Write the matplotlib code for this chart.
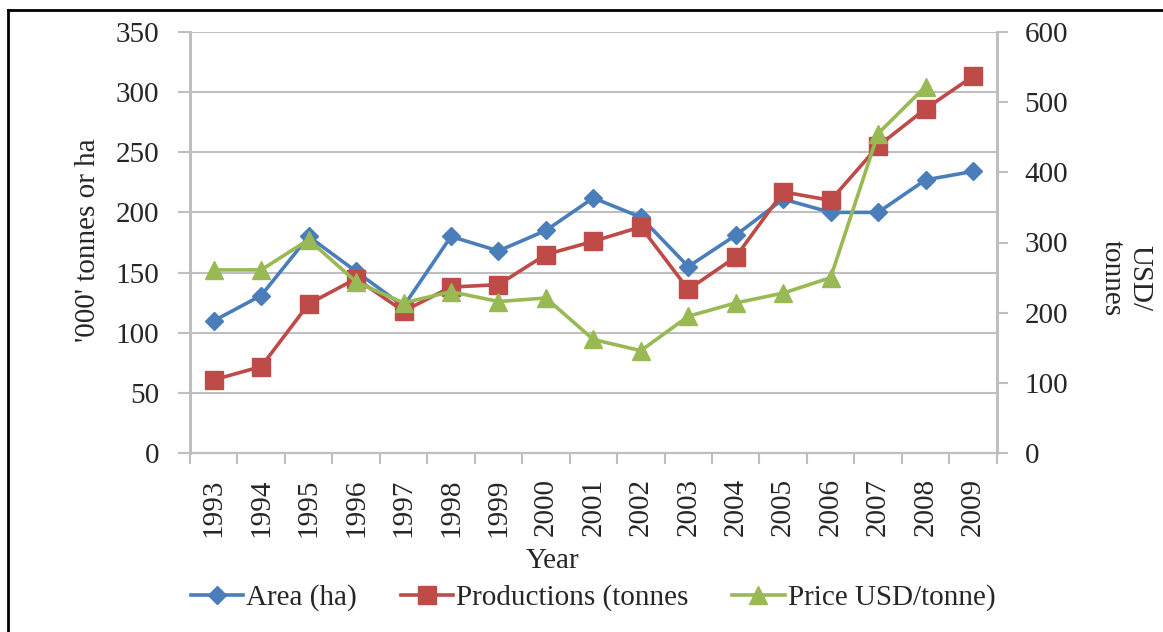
import matplotlib.pyplot as plt
from matplotlib.lines import Line2D

plt.rcParams['font.family'] = ['Liberation Serif', 'DejaVu Serif']

# data
years = ['1993', '1994', '1995', '1996', '1997', '1998', '1999', '2000', '2001',
         '2002', '2003', '2004', '2005', '2006', '2007', '2008', '2009']
area = [110, 131, 180, 151, 122, 180, 168, 185, 212,
        196, 155, 181, 211, 200, 200, 227, 234]
production = [61, 72, 124, 145, 118, 138, 140, 165, 176,
              188, 136, 163, 217, 210, 255, 286, 313]
price = [261, 261, 304, 244, 214, 230, 216, 221, 162,
         146, 195, 214, 228, 250, 455, 522, None]

blue = '#4A7EBB'
red = '#BE4B48'
green = '#98B954'
grid_col = '#BFBFBF'
text_col = '#262626'
fs = 21

fig = plt.figure(figsize=(11.63, 6.32), dpi=100)
ax = fig.add_axes([190 / 1163, 1 - 453.3 / 632, (996.7 - 190) / 1163, (453.3 - 31.7) / 632])
ax2 = ax.twinx()

x = list(range(len(years)))
ax.plot(x, area, color=blue, lw=2.6, marker='D', ms=9.5, zorder=3)
ax.plot(x, production, color=red, lw=2.6, marker='s', ms=12.5, zorder=3)
px = [i for i, v in zip(x, price) if v is not None]
pv = [v for v in price if v is not None]
ax2.plot(px, pv, color=green, lw=2.6, marker='^', ms=12.5, zorder=3)

ax.set_xlim(-0.5, len(years) - 0.5)
ax.set_ylim(0, 350)
ax2.set_ylim(0, 600)
ax.set_yticks(range(0, 351, 50))
ax2.set_yticks(range(0, 601, 100))

# tick marks between categories, labels centred on them
ax.set_xticks([i - 0.5 for i in range(len(years) + 1)], minor=False)
ax.set_xticklabels([])
ax.set_xticks(x, minor=True)
ax.set_xticklabels(years, minor=True, rotation=90, fontsize=fs, color=text_col)
ax.tick_params(axis='x', which='major', length=8, color=grid_col, width=1.5)
ax.tick_params(axis='x', which='minor', length=0, pad=18)

ax.grid(axis='y', color=grid_col, lw=1.5)
ax.set_axisbelow(True)
for a in (ax, ax2):
    a.spines['top'].set_visible(False)
    a.spines['left'].set_color(grid_col)
    a.spines['right'].set_color(grid_col)
    a.spines['bottom'].set_color(grid_col)
    a.spines['left'].set_linewidth(2)
    a.spines['right'].set_linewidth(2)
    a.spines['bottom'].set_linewidth(1.5)
ax.tick_params(axis='y', length=9, color=grid_col, width=1.5, labelsize=fs, labelcolor=text_col, pad=13)
ax2.tick_params(axis='y', length=8, color=grid_col, width=1.5, labelsize=fs, labelcolor=text_col, pad=12)

ax.set_ylabel("'000' tonnes or ha", fontsize=fs, color=text_col)
ax.yaxis.label.set_va('center')
ax.yaxis.set_label_coords(-0.127, 0.506)

ax.set_xlabel('Year', fontsize=fs, color=text_col)
ax.xaxis.label.set_va('center')
ax.xaxis.set_label_coords(0.45, -0.2555)

ax2.set_ylabel('USD/\ntonnes', fontsize=fs, color=text_col, rotation=270, linespacing=1.1)
ax2.yaxis.label.set_va('center')
ax2.yaxis.set_label_coords(1.160, 0.416)

handles = [
    Line2D([], [], color=blue, lw=2.6, marker='D', ms=9.5),
    Line2D([], [], color=red, lw=2.6, marker='s', ms=12.5),
    Line2D([], [], color=green, lw=2.6, marker='^', ms=12.5),
]
labels = ['Area (ha)', 'Productions (tonnes', 'Price USD/tonne)']
fig.legend(handles, labels, loc='center', bbox_to_anchor=(593 / 1163, 1 - 598 / 632),
           ncol=3, frameon=False, fontsize=fs, handlelength=1.8, handletextpad=0.1,
           columnspacing=1.5, labelcolor=text_col)

# frame lines of the original figure
fig.add_artist(Line2D([8 / 1163, 8 / 1163], [0, 1 - 10 / 632], color='black', lw=2,
                      transform=fig.transFigure))
fig.add_artist(Line2D([8 / 1163, 1], [1 - 10 / 632, 1 - 10 / 632], color='black', lw=2,
                      transform=fig.transFigure))

fig.savefig('out.png', dpi=100)
